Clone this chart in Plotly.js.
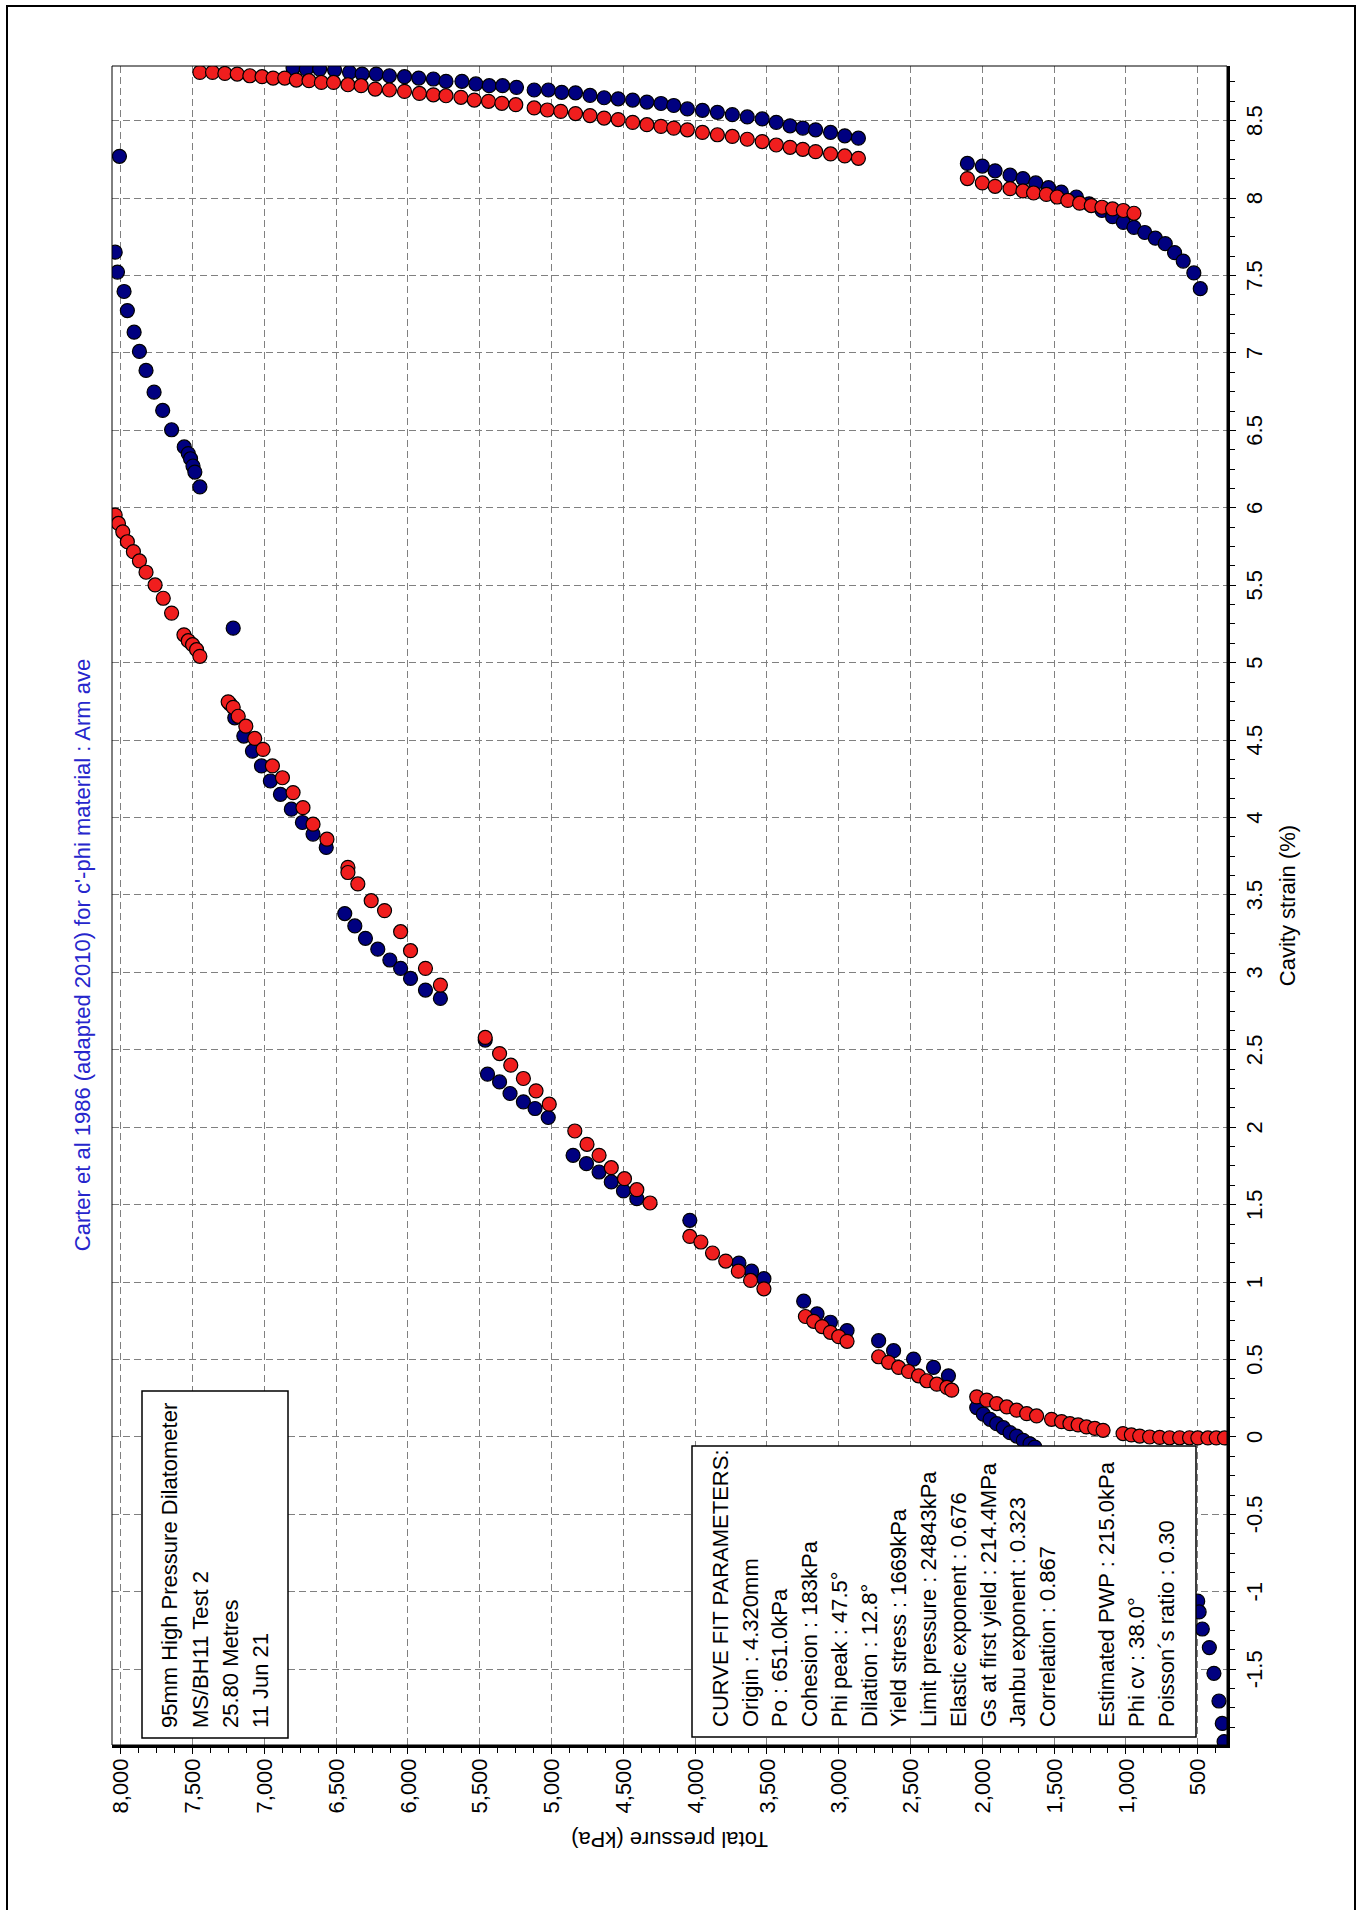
<!DOCTYPE html>
<html>
<head>
<meta charset="utf-8">
<script src="https://cdn.plot.ly/plotly-3.0.1.min.js"></script>
<style>
html,body{margin:0;padding:0;background:#fff;overflow:hidden;width:1357px;height:1910px;}
#chart{position:absolute;left:0;top:0;width:1910px;height:1357px;transform-origin:0 0;transform:translate(0px,1910px) rotate(-90deg);}
</style>
</head>
<body>
<div id="chart"></div>
<script>
// ---- Data (cavity strain %, total pressure kPa) ----
const blueStrain = [
  8.27,
  7.651,7.522,7.397,7.274,7.134,7.010,6.887,6.747,6.629,6.504,6.393,6.350,6.317,6.270,6.231,6.135,
  5.223,
  4.734,4.644,4.526,4.429,4.333,4.236,4.150,4.054,3.968,3.893,3.807,
  3.38,3.30,3.22,3.15,3.08,3.026,2.961,2.886,2.832,
  2.563,2.343,2.293,2.218,2.164,2.121,2.063,
  1.819,1.765,1.711,1.647,1.589,1.539,
  1.399,1.123,1.071,1.022,
  0.877,0.795,0.741,0.687,
  0.622,0.557,0.503,0.449,0.395,
  0.190,0.147,0.114,0.086,0.060,0.028,0.006,-0.022,-0.044,-0.065,
  -1.06,-1.13,-1.24,-1.36,-1.526,-1.705,-1.85,-1.967,
  8.840,8.833,8.833,8.827,8.812,8.801,8.801,8.790,8.784,8.775,8.769,8.754,8.754,8.737,8.726,8.726,8.715,8.698,8.698,8.683,
  8.680,8.663,8.648,8.641,8.633,8.620,8.611,8.598,8.576,8.567,8.554,8.539,8.524,8.511,8.489,8.467,8.452,8.441,8.424,8.402,8.387,
  8.224,8.207,8.176,8.148,8.126,8.098,8.067,8.039,8.007,7.963,7.920,7.880,7.843,7.811,7.778,7.741,7.706,7.648,7.593,7.517,7.415
];
const bluePressure = [
  8009,
  8039,8023,7977,7954,7907,7870,7824,7768,7708,7646,7558,7530,7514,7497,7484,7449,
  7217,
  7240,7206,7143,7083,7020,6958,6888,6812,6735,6661,6569,
  6440,6370,6296,6210,6126,6051,5982,5878,5774,
  5462,5446,5362,5289,5196,5115,5023,
  4850,4757,4669,4584,4499,4406,
  4037,3695,3607,3521,
  3244,3151,3058,2942,
  2722,2618,2479,2340,2236,
  2039,1993,1946,1900,1854,1807,1761,1715,1668,1634,
  500,490,468,419,387,352,329,316,
  6800,6708,6615,6511,6407,6319,6221,6129,6024,5925,5823,5735,5624,5527,5434,5341,5244,5121,5022,4929,
  4833,4732,4634,4536,4435,4336,4238,4149,4054,3949,3845,3741,3637,3533,3435,3339,3250,3161,3057,2958,2863,
  2104,2000,1911,1807,1717,1628,1539,1450,1345,1256,1167,1093,1018,944,869,795,726,661,601,527,482
];
const redStrain = [
  8.812,8.812,8.805,8.801,8.790,8.784,8.775,8.775,8.762,8.758,8.747,8.747,8.732,8.726,8.704,8.698,8.689,8.676,8.667,8.661,8.651,8.633,8.625,8.612,8.603,8.582,8.569,8.560,
  8.546,8.533,8.517,8.507,8.489,8.474,8.463,8.452,8.441,8.424,8.409,8.398,8.380,8.365,8.343,8.328,8.315,8.300,8.285,8.272,8.257,
  8.126,8.098,8.076,8.061,8.046,8.033,8.024,8.007,7.985,7.967,7.952,7.941,7.930,7.920,7.902,
  5.953,5.899,5.845,5.781,5.717,5.657,5.584,5.502,5.416,5.320,5.180,5.142,5.116,5.084,5.041,
  4.747,4.712,4.654,4.590,4.511,4.440,4.333,4.257,4.161,4.064,3.957,3.860,
  3.678,3.645,3.571,3.463,3.399,3.263,3.140,3.026,2.918,
  2.580,2.476,2.401,2.315,2.235,2.149,
  1.976,1.890,1.819,1.739,1.668,1.597,1.511,
  1.295,1.259,1.188,1.136,1.071,1.011,0.957,
  0.778,0.747,0.713,0.676,0.648,0.618,
  0.518,0.482,0.449,0.423,0.395,0.363,0.341,0.320,0.302,
  0.259,0.238,0.216,0.194,0.173,0.151,0.136,
  0.114,0.099,0.086,0.078,0.065,0.056,0.043,
  0.022,0.013,0.006,0.000,-0.003,-0.005,-0.005,-0.005,-0.006,-0.006,-0.006,-0.006
];
const redPressure = [
  7449,7361,7275,7189,7101,7016,6939,6858,6777,6689,6603,6518,6418,6326,6228,6129,6024,5920,5823,5735,5631,5538,5439,5346,5249,5121,5029,4936,
  4833,4732,4634,4536,4435,4336,4238,4149,4054,3949,3845,3741,3637,3533,3435,3339,3250,3161,3057,2958,2863,
  2104,2000,1911,1807,1717,1643,1554,1479,1405,1322,1241,1167,1093,1018,944,
  8039,8016,7986,7954,7912,7870,7824,7761,7704,7646,7560,7530,7500,7472,7449,
  7252,7217,7182,7129,7067,7009,6944,6874,6800,6731,6661,6564,
  6418,6418,6349,6256,6163,6051,5982,5878,5774,
  5462,5362,5284,5196,5108,5016,
  4838,4753,4669,4584,4492,4406,4314,
  4037,3960,3879,3787,3699,3614,3521,
  3232,3174,3116,3058,3000,2942,
  2722,2653,2583,2514,2444,2386,2317,2247,2213,
  2039,1969,1900,1830,1761,1691,1622,
  1518,1448,1390,1333,1275,1217,1159,
  1020,962,904,835,765,696,626,557,499,429,371,313
];

// ---- Tick labels ----
const strainTickVals = [-1.5,-1,-0.5,0,0.5,1,1.5,2,2.5,3,3.5,4,4.5,5,5.5,6,6.5,7,7.5,8,8.5];
const strainTickText = ["-1.5","-1","-0.5","0","0.5","1","1.5","2","2.5","3","3.5","4","4.5","5","5.5","6","6.5","7","7.5","8","8.5"];
const pressureTickVals = [500,1000,1500,2000,2500,3000,3500,4000,4500,5000,5500,6000,6500,7000,7500,8000];
const pressureTickText = ["500","1,000","1,500","2,000","2,500","3,000","3,500","4,000","4,500","5,000","5,500","6,000","6,500","7,000","7,500","8,000"];

// ---- Texts ----
const chartTitle = "Carter et al 1986 (adapted 2010) for c'-phi material : Arm ave";
const xTitle = "Cavity strain (%)";
const yTitle = "Total pressure (kPa)";
const infoLines = ["95mm High Pressure Dilatometer","MS/BH11 Test 2","25.80 Metres","11 Jun 21"];
const fitLines = ["CURVE FIT PARAMETERS:","Origin : 4.320mm","Po : 651.0kPa","Cohesion : 183kPa","Phi peak : 47.5°","Dilation : 12.8°","Yield stress : 1669kPa","Limit pressure : 24843kPa","Elastic exponent : 0.676","Gs at first yield : 214.4MPa","Janbu exponent : 0.323","Correlation : 0.867","","Estimated PWP : 215.0kPa","Phi cv : 38.0°","Poisson´s ratio : 0.30"];

// ---- Layout geometry (unrotated figure; page rotates it) ----
const W = 1910, H = 1357;
const ml = 165, mr = 66, mt = 112, mb = 130;
const pw = W - ml - mr, ph = H - mt - mb;
const px = ox => (ox - ml) / pw;
const py = oy => 1 - (oy - mt) / ph;
const FONT = "Liberation Sans, Arial, sans-serif";

const markerBase = {size: 14, line: {width: 1.2, color: '#000000'}};
const data = [
  {x: blueStrain, y: bluePressure, type: 'scatter', mode: 'markers', name: 'blue',
   marker: Object.assign({}, markerBase, {color: '#000080'}), cliponaxis: true},
  {x: redStrain, y: redPressure, type: 'scatter', mode: 'markers', name: 'red',
   marker: Object.assign({}, markerBase, {color: '#f01e1e'}), cliponaxis: true}
];

const annotations = [];
infoLines.forEach((t, i) => {
  annotations.push({xref: 'paper', yref: 'paper', x: px(180), y: py(170 + 30 * i),
    xanchor: 'left', yanchor: 'middle', text: t, showarrow: false,
    font: {family: FONT, size: 22, color: '#000'}});
});
fitLines.forEach((t, i) => {
  if (!t) return;
  annotations.push({xref: 'paper', yref: 'paper', x: px(181), y: py(720.5 + 29.73 * i),
    xanchor: 'left', yanchor: 'middle', text: t, showarrow: false,
    font: {family: FONT, size: 22, color: '#000'}});
});

const shapes = [
  {type: 'rect', xref: 'paper', yref: 'paper', x0: 0, x1: 1, y0: 0, y1: 1,
   line: {color: '#000', width: 1}, layer: 'above'},
  {type: 'rect', xref: 'paper', yref: 'paper', x0: px(172), x1: px(519), y0: py(288), y1: py(142),
   line: {color: '#000', width: 1.5}, fillcolor: '#fff', layer: 'above'},
  {type: 'rect', xref: 'paper', yref: 'paper', x0: px(173), x1: px(464), y0: py(1196), y1: py(692),
   line: {color: '#000', width: 1.5}, fillcolor: '#fff', layer: 'above'},
  {type: 'rect', xref: 'paper', yref: 'paper', x0: px(-40), x1: px(1904), y0: py(1355), y1: py(7),
   line: {color: '#000', width: 2}, layer: 'above'}
];

const gridStyle = {showgrid: true, gridcolor: '#808080', gridwidth: 1, griddash: '7px,4px'};

const layout = {
  width: W, height: H,
  margin: {l: ml, r: mr, t: mt, b: mb, pad: 0},
  paper_bgcolor: '#fff', plot_bgcolor: '#fff',
  showlegend: false,
  font: {family: FONT, size: 22, color: '#000'},
  title: {text: chartTitle, font: {family: FONT, size: 22, color: '#2626cc'},
          x: 0.5, xref: 'container', xanchor: 'center', y: 1 - 82 / H, yref: 'container', yanchor: 'middle'},
  xaxis: Object.assign({
    range: [-1.989, 8.853], tickmode: 'array', tickvals: strainTickVals, ticktext: strainTickText,
    ticks: 'outside', ticklen: 6, tickwidth: 1, tickcolor: '#000',
    showline: true, linewidth: 3, linecolor: '#000', zeroline: false,
    tickfont: {family: FONT, size: 22, color: '#000'},
    minor: {tick0: 0, dtick: 0.125, ticks: 'outside', ticklen: 5, tickwidth: 1, tickcolor: '#000', showgrid: false},
    title: {text: xTitle, font: {family: FONT, size: 22, color: '#000'}, standoff: 14}
  }, gridStyle),
  yaxis: Object.assign({
    range: [296, 8061], tickmode: 'array', tickvals: pressureTickVals, ticktext: pressureTickText,
    ticks: 'outside', ticklen: 6, tickwidth: 1, tickcolor: '#000',
    showline: true, linewidth: 3, linecolor: '#000', zeroline: false,
    tickfont: {family: FONT, size: 22, color: '#000'},
    minor: {tick0: 0, dtick: 125, ticks: 'outside', ticklen: 5, tickwidth: 1, tickcolor: '#000', showgrid: false},
    title: {text: yTitle, font: {family: FONT, size: 22, color: '#000'}, standoff: 12}
  }, gridStyle),
  annotations: annotations,
  shapes: shapes
};

Plotly.newPlot('chart', data, layout, {staticPlot: true, displayModeBar: false});
</script>
</body>
</html>
